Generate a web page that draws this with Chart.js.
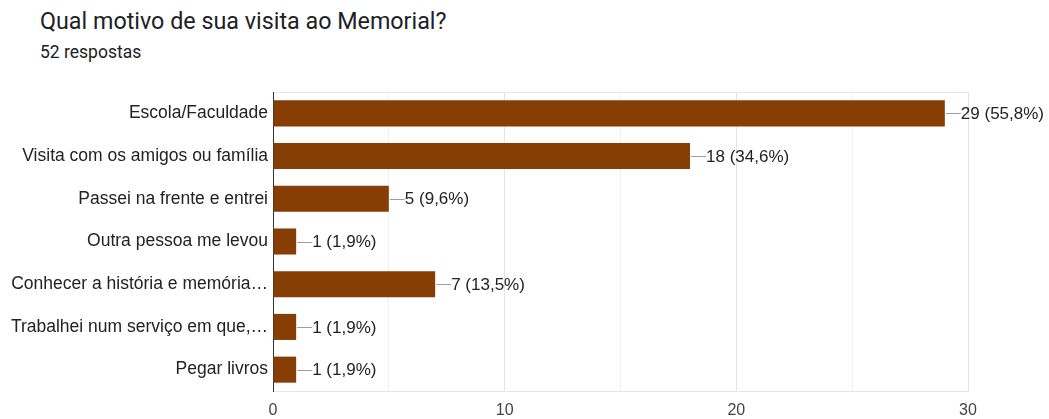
<!DOCTYPE html>
<html>
<head>
<meta charset="utf-8">
<script src="https://cdn.jsdelivr.net/npm/chart.js@4"></script>
<style>
  body { margin: 0; background: #fff; }
  #wrap { position: relative; width: 1049px; height: 419px; }
  #titulo { position: absolute; left: 40px; top: 10px; font: 23.3px/23px Roboto, sans-serif; color: #202124; white-space: nowrap; }
  #sub { position: absolute; left: 40px; top: 44px; font: 17.5px/17.5px Roboto, sans-serif; color: #202124; white-space: nowrap; }
  canvas { position: absolute; left: 0; top: 0; }
</style>
</head>
<body>
<div id="wrap">
  <div id="titulo">Qual motivo de sua visita ao Memorial?</div>
  <div id="sub">52 respostas</div>
  <canvas id="grafica" width="1049" height="419"></canvas>
</div>
<script>
const categorias = [
  "Escola/Faculdade",
  "Visita com os amigos ou família",
  "Passei na frente e entrei",
  "Outra pessoa me levou",
  "Conhecer a história e memória…",
  "Trabalhei num serviço em que,…",
  "Pegar livros"
];
const valores = [29, 18, 5, 1, 7, 1, 1];
const total = 52;
const ticksX = [0, 10, 20, 30];

const fonte = "'Liberation Sans', Arial, sans-serif";

// rótulos "—29 (55,8%)"
const rotulos = {
  id: "rotulos",
  afterDatasetsDraw(chart) {
    const ctx = chart.ctx;
    const meta = chart.getDatasetMeta(0);
    ctx.save();
    ctx.font = "17px " + fonte;
    ctx.textBaseline = "middle";
    meta.data.forEach((bar, i) => {
      const v = valores[i];
      const pct = (v / total * 100).toFixed(1).replace(".", ",");
      const y = Math.round(bar.y) + 0.5;
      ctx.strokeStyle = "#9e9e9e";
      ctx.lineWidth = 1;
      ctx.beginPath();
      ctx.moveTo(bar.x + 1, y);
      ctx.lineTo(bar.x + 16, y);
      ctx.stroke();
      ctx.fillStyle = "#222";
      ctx.fillText(v + " (" + pct + "%)", bar.x + 16, bar.y + 1);
    });
    ctx.restore();
  }
};

new Chart(document.getElementById("grafica"), {
  type: "bar",
  data: {
    labels: categorias,
    datasets: [{
      data: valores,
      backgroundColor: "#873e05",
      categoryPercentage: 1,
      barPercentage: 0.61
    }]
  },
  options: {
    indexAxis: "y",
    responsive: false,
    animation: false,
    layout: { padding: { top: 92, right: 81, left: 0, bottom: 0 } },
    plugins: { legend: { display: false }, tooltip: { enabled: false } },
    scales: {
      x: {
        min: 0, max: 30,
        afterFit(s) { s.height = 28; },
        afterBuildTicks(s) { s.ticks = [0, 5, 10, 15, 20, 25, 30].map(v => ({ value: v })); },
        ticks: {
          padding: 10,
          color: "#444",
          font: { family: fonte, size: 16 },
          maxRotation: 0,
          callback: v => ticksX.includes(v) ? String(v) : ""
        },
        grid: {
          drawTicks: false,
          color: c => (c.tick && c.tick.value % 10 === 0) ? "#e3e3e3" : "#f2f2f2"
        },
        border: { color: "#e6e6e6" }
      },
      y: {
        afterFit(s) { s.width = 273; },
        ticks: {
          padding: 5,
          color: "#222",
          font: { family: fonte, size: 17.5 },
          autoSkip: false
        },
        grid: {
          drawTicks: false,
          color: c => c.index === 0 ? "#e8e8e8" : "rgba(0,0,0,0)"
        },
        border: { color: "#333", width: 1 }
      }
    }
  },
  plugins: [rotulos]
});
</script>
</body>
</html>
